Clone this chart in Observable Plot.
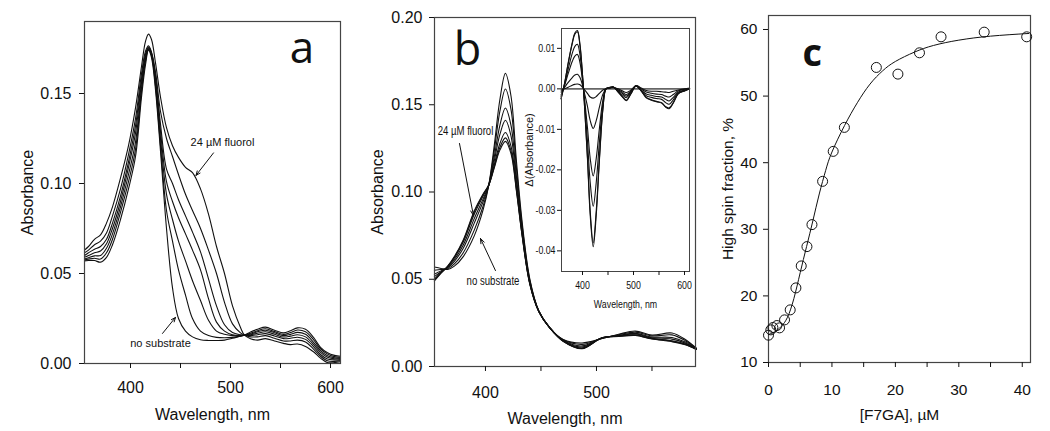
<!DOCTYPE html>
<html><head><meta charset="utf-8">
<script src="https://cdn.jsdelivr.net/npm/d3@7"></script>
<script src="https://cdn.jsdelivr.net/npm/@observablehq/plot@0.6"></script>
<style>
body{margin:0;background:#fff;}
#chart{position:relative;width:1050px;height:431px;overflow:hidden;background:#fff;}
#chart svg{position:absolute;}
</style></head><body><div id="chart"></div>
<script>
// ---------- Panel a : absorbance spectra with fluorol titration ----------
const wlA = [354, 358, 364, 370, 376, 382, 390, 398, 405, 411, 415, 418, 421, 425, 430, 436, 442, 448, 455, 462, 470, 478, 486, 494, 502, 510, 514, 520, 527, 535, 544, 553, 560, 567, 575, 583, 590, 597, 604, 610];
const absA0 = [0.057, 0.0572, 0.0572, 0.0563, 0.059, 0.066, 0.080, 0.097, 0.115, 0.148, 0.166, 0.174, 0.170, 0.152, 0.118, 0.075, 0.042, 0.025, 0.018, 0.0148, 0.0132, 0.0128, 0.0128, 0.013, 0.014, 0.0152, 0.0157, 0.0175, 0.019, 0.0202, 0.0185, 0.0170, 0.0182, 0.0198, 0.019, 0.0145, 0.009, 0.006, 0.0045, 0.004];
const absA1 = [0.0575, 0.058, 0.0585, 0.058, 0.0615, 0.069, 0.084, 0.101, 0.119, 0.151, 0.168, 0.1745, 0.171, 0.154, 0.121, 0.085, 0.068, 0.052, 0.038, 0.025, 0.018, 0.0155, 0.0145, 0.0143, 0.0145, 0.0152, 0.0157, 0.0168, 0.0182, 0.0193, 0.0178, 0.0162, 0.0172, 0.0186, 0.0176, 0.0132, 0.0082, 0.0052, 0.0038, 0.0034];
const absA2 = [0.058, 0.0588, 0.0598, 0.060, 0.064, 0.072, 0.087, 0.105, 0.123, 0.153, 0.169, 0.175, 0.1715, 0.156, 0.125, 0.094, 0.080, 0.068, 0.057, 0.046, 0.035, 0.024, 0.018, 0.0162, 0.0155, 0.0155, 0.0157, 0.0164, 0.0176, 0.0185, 0.0171, 0.0155, 0.0162, 0.0173, 0.0162, 0.0118, 0.0072, 0.0043, 0.0032, 0.0028];
const absA3 = [0.059, 0.060, 0.0615, 0.0625, 0.0665, 0.075, 0.090, 0.109, 0.128, 0.156, 0.1705, 0.1755, 0.172, 0.158, 0.129, 0.101, 0.090, 0.081, 0.072, 0.063, 0.052, 0.036, 0.023, 0.018, 0.016, 0.0156, 0.0157, 0.016, 0.0168, 0.0176, 0.0163, 0.0147, 0.0152, 0.016, 0.0148, 0.0106, 0.0062, 0.0035, 0.0026, 0.0022];
const absA4 = [0.060, 0.0615, 0.0635, 0.065, 0.069, 0.078, 0.093, 0.112, 0.132, 0.158, 0.172, 0.176, 0.1725, 0.160, 0.133, 0.108, 0.100, 0.091, 0.082, 0.073, 0.062, 0.047, 0.032, 0.0215, 0.0172, 0.016, 0.0157, 0.0155, 0.016, 0.0166, 0.0153, 0.0138, 0.014, 0.0146, 0.0134, 0.0094, 0.005, 0.0025, 0.002, 0.0018];
const absA5 = [0.0615, 0.063, 0.066, 0.068, 0.0725, 0.082, 0.097, 0.116, 0.136, 0.161, 0.1735, 0.1765, 0.173, 0.162, 0.140, 0.125, 0.115, 0.105, 0.094, 0.085, 0.075, 0.063, 0.050, 0.034, 0.022, 0.017, 0.0157, 0.0148, 0.0148, 0.0155, 0.014, 0.0125, 0.0125, 0.013, 0.012, 0.008, 0.004, 0.0015, 0.0012, 0.0015];
const absA6 = [0.063, 0.065, 0.069, 0.0715, 0.078, 0.087, 0.103, 0.121, 0.142, 0.165, 0.179, 0.183, 0.180, 0.167, 0.148, 0.131, 0.121, 0.1145, 0.109, 0.106, 0.097, 0.083, 0.065, 0.050, 0.032, 0.020, 0.0157, 0.0138, 0.013, 0.0138, 0.0125, 0.0112, 0.0105, 0.0108, 0.0095, 0.0065, 0.003, 0.0005, 0.0005, 0.001];
const ticksA_y = [0, 0.05, 0.10, 0.15];
const ticksA_x = [400, 500, 600];
const minorA_x = [450, 550];

// ---------- Panel b : absorbance spectra with F7GA titration ----------
const wlB = [354, 360, 366, 372, 380, 390, 398, 403, 408, 413, 418, 423, 428, 433, 440, 448, 458, 470, 487, 505, 520, 535, 550, 568, 580, 590];
const absB0 = [0.057, 0.0562, 0.0556, 0.0575, 0.063, 0.075, 0.090, 0.104, 0.127, 0.153, 0.168, 0.155, 0.117, 0.083, 0.050, 0.032, 0.022, 0.0155, 0.0135, 0.016, 0.0185, 0.0203, 0.018, 0.0192, 0.0155, 0.0105];
const absB1 = [0.0552, 0.0556, 0.0560, 0.0588, 0.0652, 0.0783, 0.0921, 0.104, 0.124, 0.1463, 0.159, 0.1474, 0.1131, 0.0812, 0.0493, 0.0319, 0.0220, 0.0153, 0.0127, 0.0161, 0.0182, 0.0197, 0.0175, 0.0181, 0.0148, 0.0103];
const absB2 = [0.0529, 0.0548, 0.0566, 0.0603, 0.0678, 0.0823, 0.0946, 0.104, 0.1204, 0.1382, 0.1481, 0.1382, 0.1083, 0.0789, 0.0485, 0.0317, 0.0221, 0.0150, 0.0118, 0.0163, 0.0178, 0.0190, 0.0169, 0.0166, 0.0140, 0.0101];
const absB3 = [0.0515, 0.0543, 0.0569, 0.0613, 0.0696, 0.0849, 0.0962, 0.104, 0.118, 0.133, 0.1411, 0.1322, 0.1053, 0.0775, 0.0479, 0.0317, 0.0221, 0.0148, 0.0112, 0.0163, 0.0176, 0.0186, 0.0165, 0.0157, 0.0134, 0.0100];
const absB4 = [0.0500, 0.0539, 0.0573, 0.0623, 0.0713, 0.0874, 0.0978, 0.104, 0.1157, 0.1278, 0.1341, 0.1263, 0.1022, 0.0760, 0.0474, 0.0316, 0.0222, 0.0146, 0.0106, 0.0164, 0.0174, 0.0181, 0.0161, 0.0148, 0.0129, 0.0099];
const absB5 = [0.0494, 0.0536, 0.0574, 0.0627, 0.0720, 0.0886, 0.0986, 0.104, 0.1146, 0.1255, 0.1310, 0.1236, 0.1008, 0.0754, 0.0472, 0.0315, 0.0222, 0.0145, 0.0104, 0.0165, 0.0173, 0.0179, 0.0159, 0.0145, 0.0126, 0.0098];
const absB6 = [0.049, 0.0535, 0.0575, 0.063, 0.0725, 0.0893, 0.099, 0.104, 0.114, 0.124, 0.129, 0.122, 0.100, 0.075, 0.047, 0.0315, 0.0222, 0.0145, 0.0102, 0.0165, 0.0172, 0.0178, 0.0158, 0.0142, 0.0125, 0.0098];
const ticksB_y = [0, 0.05, 0.10, 0.15, 0.20];
const ticksB_x = [400, 500];
const minorB_x = [450, 550];

// ---------- Panel b inset : difference spectra ----------
const wlD = [358, 365, 372, 380, 385, 390, 395, 400, 405, 410, 415, 421, 427, 433, 440, 446, 452, 460, 470, 478, 486, 495, 505, 515, 525, 535, 545, 555, 563, 570, 578, 588, 600, 610];
const dD1 = [-0.0003, 0.0, 0.0004, 0.0009, 0.0011, 0.0012, 0.001, 0.0004, -0.0004, -0.0012, -0.002, -0.0023, -0.0019, -0.0011, -0.0003, 0.0, 0.0002, 0.0003, 0.0, -0.0005, -0.0009, -0.0003, 0.0008, 0.0002, -0.0004, -0.0006, -0.0006, -0.0007, -0.0008, -0.0009, -0.0006, -0.0003, 0.0, 0.0002];
const dD2 = [-0.0008, 0.0004, 0.0016, 0.0028, 0.0034, 0.0036, 0.0028, 0.0009, -0.0017, -0.0045, -0.0078, -0.0098, -0.0078, -0.0046, -0.0013, 0.0, 0.0002, 0.0004, -0.0002, -0.0008, -0.0014, -0.0005, 0.0008, 0.0, -0.0008, -0.0011, -0.0013, -0.0014, -0.0018, -0.002, -0.0014, -0.0005, -0.0001, 0.0001];
const dD3 = [-0.0015, 0.0009, 0.0038, 0.0068, 0.0081, 0.0085, 0.0065, 0.002, -0.0037, -0.0099, -0.0171, -0.0215, -0.0171, -0.0099, -0.0028, 0.0, 0.0002, 0.0004, -0.0004, -0.0011, -0.0018, -0.0007, 0.0007, -0.0003, -0.0013, -0.0016, -0.0019, -0.002, -0.0026, -0.003, -0.0021, -0.0008, -0.0003, 0.0];
const dD4 = [-0.0019, 0.0011, 0.0049, 0.0088, 0.0105, 0.011, 0.0084, 0.0026, -0.0048, -0.0133, -0.023, -0.029, -0.023, -0.0133, -0.0037, 0.0, 0.0002, 0.0004, -0.0006, -0.0015, -0.0022, -0.0009, 0.0007, -0.0004, -0.0017, -0.0021, -0.0024, -0.0026, -0.0034, -0.0038, -0.0027, -0.001, -0.0004, 0.0];
const dD5 = [-0.0024, 0.0015, 0.0063, 0.0112, 0.0135, 0.0141, 0.0107, 0.0034, -0.0063, -0.0175, -0.030, -0.038, -0.030, -0.0175, -0.0049, 0.0, 0.0003, 0.0005, -0.0008, -0.0019, -0.0028, -0.0012, 0.0007, -0.0005, -0.0021, -0.0027, -0.0031, -0.0034, -0.0044, -0.0047, -0.0034, -0.0012, -0.0005, 0.0];
const dD6 = [-0.0025, 0.0015, 0.0065, 0.0115, 0.0138, 0.0144, 0.011, 0.0035, -0.0065, -0.018, -0.031, -0.039, -0.031, -0.018, -0.005, 0.0, 0.0003, 0.0005, -0.0008, -0.002, -0.0029, -0.0012, 0.0007, -0.0005, -0.0022, -0.0028, -0.0032, -0.0035, -0.0045, -0.0049, -0.0035, -0.0012, -0.0005, 0.0];
const ticksD_y = [0.01, 0, -0.01, -0.02, -0.03, -0.04];
const ticksD_x = [400, 500, 600];
const minorD_x = [450, 550];

// ---------- Panel c : high-spin fraction vs [F7GA] ----------
const concF7GA = [0, 0.37, 0.69, 1.32, 1.74, 2.53, 3.42, 4.32, 5.16, 6.06, 6.85, 8.53, 10.2, 11.96, 17.0, 20.4, 23.8, 27.2, 34.0, 40.7];
const highSpin = [14.1, 14.9, 15.25, 15.55, 15.2, 16.4, 17.9, 21.2, 24.5, 27.4, 30.7, 37.2, 41.7, 45.3, 54.3, 53.3, 56.5, 58.9, 59.6, 58.9];
const fitConc = [0, 1, 2, 3, 4, 5, 6, 7, 8, 9, 10, 12, 14, 16, 18, 20, 23, 26, 30, 35, 41];
const fitSpin = [14.2, 14.6, 15.4, 16.8, 19.6, 23.5, 27.4, 31.3, 35.3, 38.8, 41.6, 45.6, 49.0, 51.8, 53.8, 55.2, 56.6, 57.6, 58.4, 59.0, 59.4];
const ticksC_x = [0, 10, 20, 30, 40];
const minorC_x = [5, 15, 25, 35];
const ticksC_y = [10, 20, 30, 40, 50, 60];

// annotation texts
const tagA = [{x: 571.5, y: 0.1667, t: "a"}];
const tagB = [{x: 383.8, y: 0.1725, t: "b"}];
const tagC = [{x: 6.9, y: 54.5, t: "c"}];
const notesA = [{x: 492, y: 0.1228, t: "24 µM fluorol"}, {x: 430, y: 0.0111, t: "no substrate"}];
const arrowsA = [{x1: 483, y1: 0.117, x2: 465.5, y2: 0.1045}, {x1: 432, y1: 0.0167, x2: 445, y2: 0.0256}];
const notesB = [{x: 382, y: 0.1347, t: "24 µM fluorol"}, {x: 406.8, y: 0.0487, t: "no substrate"}];
const arrowsB = [{x1: 376.6, y1: 0.1278, x2: 389.2, y2: 0.0865}, {x1: 409, y1: 0.055, x2: 395.5, y2: 0.0734}];

// ---------- helpers ----------
const FONT = "'Liberation Sans', Arial, Helvetica, sans-serif";
const TAGFONT = "'Open Sans', 'Noto Sans', sans-serif";
const INK = "#111";
const longForm = (xs, series) => series.flatMap((ys, s) => ys.map((y, i) => ({x: xs[i], y, s})));
const fmt2 = d => (Math.abs(d) < 1e-9 ? 0 : d).toFixed(2);
const blank = () => "";

const chart = document.getElementById("chart");
function place(svg, left, top) {
  svg.style.left = left + "px";
  svg.style.top = top + "px";
  chart.appendChild(svg);
}
// horizontally condense text (emulates the narrow face of the original)
function condense(svg, filter, factor) {
  svg.querySelectorAll("text").forEach(t => {
    const s = t.textContent;
    if (!s || !filter(s)) return;
    const targets = t.querySelectorAll("tspan").length ? t.querySelectorAll("tspan") : [t];
    targets.forEach(el => {
      const len = el.getComputedTextLength();
      if (len > 0) {
        el.setAttribute("textLength", (len * factor).toFixed(2));
        el.setAttribute("lengthAdjust", "spacingAndGlyphs");
      }
    });
  });
}

// Panel a
const plotA = Plot.plot({
  width: 350, height: 431,
  marginLeft: 84, marginRight: 10, marginTop: 21, marginBottom: 68,
  style: {fontFamily: FONT, fontSize: "16px", color: INK, background: "transparent"},
  x: {domain: [354, 610]},
  y: {domain: [0, 0.19]},
  marks: [
    Plot.line(longForm(wlA, [absA0, absA1, absA2, absA3, absA4, absA5, absA6]), {x: "x", y: "y", z: "s", curve: "catmull-rom", stroke: INK, strokeWidth: 1.1}),
    Plot.frame({stroke: "#444", strokeWidth: 1.2}),
    Plot.axisY(ticksA_y, {tickFormat: fmt2, tickSize: 5, tickPadding: 8, label: "Absorbance", labelAnchor: "center", labelArrow: "none", labelOffset: 63}),
    Plot.axisX(ticksA_x, {tickSize: 5, tickPadding: 13, label: "Wavelength, nm", labelAnchor: "center", labelArrow: "none", labelOffset: 56}),
    Plot.axisX(minorA_x, {tickSize: 5, tickFormat: blank, label: null}),
    Plot.text(notesA, {x: "x", y: "y", text: "t", fontSize: 11, fill: INK}),
    Plot.arrow(arrowsA, {x1: "x1", y1: "y1", x2: "x2", y2: "y2", stroke: INK, strokeWidth: 1, headLength: 7, headAngle: 45}),
    Plot.text(tagA, {x: "x", y: "y", text: "t", fontSize: 44, fontFamily: TAGFONT, lineAnchor: "bottom", fill: INK})
  ]
});
place(plotA, 0, 0);

// Panel b
const plotB = Plot.plot({
  width: 350, height: 431,
  marginLeft: 84, marginRight: 5, marginTop: 17, marginBottom: 65,
  style: {fontFamily: FONT, fontSize: "16px", color: INK, background: "transparent"},
  x: {domain: [354.1, 589.2]},
  y: {domain: [0, 0.2]},
  marks: [
    Plot.line(longForm(wlB, [absB0, absB1, absB2, absB3, absB4, absB5, absB6]), {x: "x", y: "y", z: "s", curve: "catmull-rom", stroke: INK, strokeWidth: 1.1}),
    Plot.frame({stroke: "#444", strokeWidth: 1.2}),
    Plot.axisY(ticksB_y, {tickFormat: fmt2, tickSize: 5, tickPadding: 7, label: "Absorbance", labelAnchor: "center", labelArrow: "none", labelOffset: 63}),
    Plot.axisX(ticksB_x, {tickSize: 5, tickPadding: 15, label: "Wavelength, nm", labelAnchor: "center", labelArrow: "none", labelOffset: 57}),
    Plot.axisX(minorB_x, {tickSize: 5, tickFormat: blank, label: null}),
    Plot.text(notesB, {x: "x", y: "y", text: "t", fontSize: 12, fill: INK}),
    Plot.arrow(arrowsB, {x1: "x1", y1: "y1", x2: "x2", y2: "y2", stroke: INK, strokeWidth: 1, headLength: 8, headAngle: 40}),
    Plot.text(tagB, {x: "x", y: "y", text: "t", fontSize: 45, fontFamily: TAGFONT, lineAnchor: "bottom", fill: INK})
  ]
});
place(plotB, 350, 0);
condense(plotB, s => s === "24 µM fluorol" || s === "no substrate", 0.8);

// Panel b inset
const plotD = Plot.plot({
  width: 175, height: 290,
  marginLeft: 41, marginRight: 6, marginTop: 8, marginBottom: 39,
  style: {fontFamily: FONT, fontSize: "11px", color: INK, background: "transparent"},
  x: {domain: [358.8, 609.8]},
  y: {domain: [-0.0451, 0.0149]},
  marks: [
    Plot.ruleY([0], {stroke: "#666", strokeWidth: 1.6}),
    Plot.line(longForm(wlD, [dD1, dD2, dD3, dD4, dD5, dD6]), {x: "x", y: "y", z: "s", curve: "catmull-rom", stroke: INK, strokeWidth: 1.1}),
    Plot.frame({stroke: "#444", strokeWidth: 1}),
    Plot.axisY(ticksD_y, {tickFormat: fmt2, tickSize: 4, tickPadding: 2, label: "Δ(Absorbance)", labelAnchor: "center", labelArrow: "none", labelOffset: 36, fontSize: 11}),
    Plot.axisX(ticksD_x, {tickSize: 4, tickPadding: 6, label: "Wavelength, nm", labelAnchor: "center", labelArrow: "none", labelOffset: 36}),
    Plot.axisX(minorD_x, {tickSize: 4, tickFormat: blank, label: null})
  ]
});
place(plotD, 520, 20);
condense(plotD, s => s !== "Δ(Absorbance)", 0.8);

// Panel c
const plotC = Plot.plot({
  width: 350, height: 431,
  marginLeft: 68, marginRight: 20, marginTop: 15, marginBottom: 69,
  style: {fontFamily: FONT, fontSize: "15.5px", color: INK, background: "transparent"},
  x: {domain: [0, 41.3]},
  y: {domain: [10, 62.1]},
  marks: [
    Plot.frame({stroke: "#444", strokeWidth: 1.2}),
    Plot.axisY(ticksC_y, {tickSize: 5, tickPadding: 6, label: "High spin fraction, %", labelAnchor: "center", labelArrow: "none", labelOffset: 47}),
    Plot.axisX(ticksC_x, {tickSize: 5, tickPadding: 16, label: "[F7GA], µM", labelAnchor: "center", labelArrow: "none", labelOffset: 57}),
    Plot.axisX(minorC_x, {tickSize: 5, tickFormat: blank, label: null}),
    Plot.line(fitConc.map((x, i) => ({x, y: fitSpin[i]})), {x: "x", y: "y", curve: "natural", stroke: INK, strokeWidth: 1}),
    Plot.dot(concF7GA.map((x, i) => ({x, y: highSpin[i]})), {x: "x", y: "y", r: 5, stroke: INK, strokeWidth: 1, fill: "none"}),
    Plot.text(tagC, {x: "x", y: "y", text: "t", fontSize: 38, fontWeight: "bold", fontFamily: TAGFONT, lineAnchor: "bottom", fill: INK})
  ]
});
place(plotC, 700, 0);
</script></body></html>
